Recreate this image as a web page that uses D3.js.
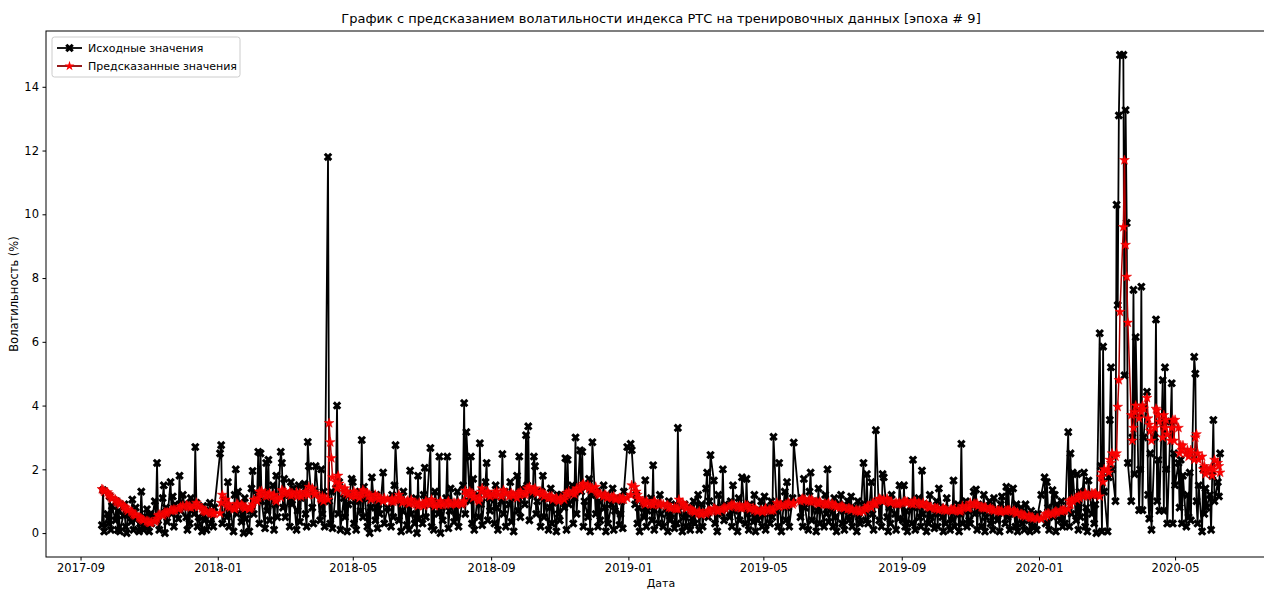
<!DOCTYPE html>
<html>
<head>
<meta charset="utf-8">
<script src="https://cdn.jsdelivr.net/npm/d3@7"></script>
<style>
  body { margin: 0; background: #fff; }
  svg { display: block; font-family: "DejaVu Sans", sans-serif; }
  .axis path, .axis line { stroke: #000; }
  .axis text { fill: #000; font-size: 11.5px; font-family: "DejaVu Sans", sans-serif; }
</style>
</head>
<body>
<svg width="1264" height="591"></svg>
<script>
// daily volatility (%), one row per month of trading days
var actual2017 = [
  [0.25, 1.35, 0.05, 0.6, 0.3, 1.15, 0.1, 0.85],
  [0.4, 1.0, 0.1, 0.7, 0.05, 0.55, 0.9, 0.2, 0.0, 0.6, 0.35, 1.05, 0.1, 0.45, 0.8, 0.05, 0.3, 1.3, 0.5, 0.1, 0.75, 0.2],
  [0.05, 0.6, 0.3, 1.0, 0.5, 2.2, 0.4, 0.1, 1.1, 1.5, 0.0, 0.8, 0.35, 1.6, 0.6, 1.15, 0.2, 0.9, 0.45, 1.8, 0.7],
  [1.2, 0.5, 0.1, 0.9, 0.3, 1.1, 0.6, 2.7, 0.95, 0.2, 0.5, 0.05, 0.85, 0.4, 0.7, 0.1, 0.95, 0.3, 0.6, 0.2, 0.8]
];
var predicted2017 = [
  [1.38, 1.35, 1.3, 1.28, 1.22, 1.18, 1.12, 1.08],
  [1.05, 1.0, 0.98, 0.95, 0.9, 0.86, 0.82, 0.8, 0.75, 0.7, 0.68, 0.65, 0.6, 0.57, 0.55, 0.5, 0.47, 0.45, 0.42, 0.4, 0.38, 0.36],
  [0.33, 0.32, 0.34, 0.36, 0.4, 0.45, 0.55, 0.58, 0.55, 0.6, 0.65, 0.62, 0.65, 0.7, 0.72, 0.7, 0.74, 0.72, 0.75, 0.78, 0.82],
  [0.85, 0.88, 0.85, 0.82, 0.84, 0.8, 0.83, 0.86, 0.95, 0.88, 0.82, 0.78, 0.72, 0.7, 0.68, 0.66, 0.65, 0.62, 0.64, 0.6, 0.62]
];

var actual2018 = [
  [2.5, 2.76, 0.3, 1.0, 0.5, 1.6, 0.2, 0.8, 0.05, 1.2, 2.0, 0.6, 1.3, 0.35, 0.9, 0.0, 1.1, 0.45, 0.05, 0.7, 1.4],
  [1.95, 0.6, 1.2, 2.55, 0.3, 2.5, 1.0, 0.15, 2.2, 0.7, 2.3, 0.4, 1.5, 0.1, 0.9, 1.8, 0.5, 2.55, 2.2, 0.8],
  [1.7, 0.5, 1.2, 0.2, 1.6, 0.9, 1.4, 0.1, 0.7, 1.5, 0.35, 1.1, 1.55, 0.6, 0.2, 2.86, 2.1, 0.8, 0.3, 1.3, 2.1],
  [0.4, 2.0, 0.6, 1.3, 0.2, 11.8, 1.0, 0.3, 1.3, 0.15, 1.4, 4.0, 0.6, 1.6, 0.1, 1.1, 0.5, 1.2, 0.05, 0.9, 1.7],
  [1.6, 0.3, 1.0, 0.1, 1.3, 0.7, 2.92, 0.5, 1.45, 0.2, 1.1, 0.0, 0.8, 1.75, 0.4, 1.2, 0.15, 0.9, 0.6, 1.9, 0.3],
  [0.8, 0.2, 1.2, 0.5, 1.5, 2.76, 0.4, 1.0, 0.05, 0.7, 1.3, 0.25, 0.9, 0.1, 1.96, 0.6, 0.3, 1.1, 0.0, 1.8, 0.45],
  [0.3, 1.2, 2.05, 0.5, 1.0, 2.67, 0.2, 0.9, 0.1, 1.3, 0.6, 2.4, 0.0, 0.8, 0.4, 1.1, 2.4, 0.15, 0.7, 1.4, 0.35, 0.9],
  [0.5, 1.3, 0.2, 0.9, 1.5, 4.08, 0.6, 3.17, 1.0, 2.4, 0.3, 1.7, 0.1, 1.2, 0.5, 2.82, 0.9, 0.25, 1.6, 2.2, 0.4, 1.1, 0.7],
  [1.2, 0.3, 1.5, 0.8, 0.1, 1.0, 2.48, 0.6, 1.3, 0.2, 0.9, 1.6, 0.35, 1.1, 0.05, 1.8, 0.7, 2.4, 0.5, 1.4],
  [0.9, 3.07, 1.5, 3.35, 0.4, 1.2, 2.4, 2.1, 0.6, 1.0, 0.2, 1.3, 1.8, 0.5, 1.1, 0.1, 0.8, 1.4, 0.3, 0.95, 0.05, 1.2, 0.6],
  [0.4, 1.2, 0.8, 2.35, 0.1, 2.3, 0.9, 1.5, 0.3, 1.1, 3.0, 0.6, 2.6, 1.3, 2.55, 0.2, 1.0, 0.5, 1.7, 0.05, 1.2, 2.85],
  [0.6, 1.3, 0.2, 1.0, 0.4, 1.5, 0.8, 0.05, 1.2, 0.3, 0.9, 1.4, 0.1, 0.7, 1.1, 0.25, 0.6, 1.0, 0.15, 1.3, 2.7]
];
var predicted2018 = [
  [0.62, 0.95, 1.2, 1.05, 0.9, 0.82, 0.9, 0.8, 0.78, 0.75, 0.8, 0.92, 0.88, 0.9, 0.85, 0.82, 0.78, 0.8, 0.76, 0.78, 0.82],
  [0.9, 1.05, 1.0, 1.1, 1.3, 1.2, 1.32, 1.25, 1.15, 1.2, 1.18, 1.25, 1.15, 1.2, 1.05, 1.0, 1.1, 1.12, 1.35, 1.3],
  [1.25, 1.3, 1.22, 1.28, 1.18, 1.25, 1.2, 1.28, 1.15, 1.2, 1.25, 1.15, 1.2, 1.3, 1.25, 1.2, 1.45, 1.4, 1.3, 1.2, 1.25],
  [1.1, 1.05, 1.15, 1.0, 1.1, 1.05, 3.45, 2.85, 2.35, 1.75, 1.6, 1.4, 1.8, 1.55, 1.45, 1.3, 1.4, 1.25, 1.3, 1.2, 1.15],
  [1.2, 1.3, 1.15, 1.25, 1.1, 1.2, 1.25, 1.35, 1.3, 1.25, 1.15, 1.2, 1.05, 1.1, 1.2, 1.1, 1.15, 1.05, 1.1, 1.0, 1.1],
  [1.05, 1.0, 1.08, 0.98, 1.02, 1.05, 1.2, 1.1, 1.05, 0.95, 1.0, 0.98, 1.02, 0.92, 0.95, 1.05, 0.95, 0.9, 0.92, 0.85, 0.95],
  [0.9, 0.85, 0.92, 1.0, 0.95, 0.9, 1.05, 0.98, 0.92, 0.85, 0.9, 0.88, 1.0, 0.92, 0.88, 0.9, 0.95, 1.0, 0.92, 0.9, 0.95, 0.92],
  [0.9, 0.92, 0.95, 0.9, 0.95, 1.0, 1.33, 1.2, 1.3, 1.2, 1.25, 1.1, 1.15, 1.05, 1.0, 1.1, 1.3, 1.4, 1.25, 1.2, 1.3, 1.22, 1.15],
  [1.2, 1.25, 1.18, 1.3, 1.22, 1.15, 1.2, 1.35, 1.28, 1.25, 1.15, 1.2, 1.25, 1.18, 1.2, 1.1, 1.25, 1.2, 1.3, 1.25],
  [1.2, 1.25, 1.4, 1.38, 1.45, 1.3, 1.35, 1.4, 1.3, 1.25, 1.3, 1.2, 1.25, 1.15, 1.2, 1.1, 1.15, 1.1, 1.15, 1.05, 1.1, 1.05, 1.0],
  [1.05, 1.1, 1.05, 1.15, 1.25, 1.2, 1.3, 1.25, 1.3, 1.22, 1.3, 1.4, 1.35, 1.45, 1.5, 1.55, 1.45, 1.5, 1.4, 1.45, 1.35, 1.4],
  [1.45, 1.3, 1.25, 1.2, 1.22, 1.15, 1.2, 1.18, 1.1, 1.15, 1.12, 1.1, 1.15, 1.08, 1.05, 1.1, 1.08, 1.05, 1.1, 1.05, 1.1]
];

var actual2019 = [
  [2.8, 2.6, 0.9, 1.2, 0.3, 0.8, 0.05, 1.0, 0.5, 1.66, 0.2, 0.7, 1.1, 0.4, 2.13, 0.1, 0.9, 0.3, 1.2, 0.6],
  [0.2, 0.8, 0.05, 1.0, 0.4, 0.6, 0.15, 0.9, 0.3, 3.3, 0.7, 0.05, 0.5, 0.9, 0.2, 0.6, 0.1, 0.8, 0.35, 1.0],
  [0.3, 1.2, 0.1, 0.6, 0.9, 0.2, 1.4, 1.9, 0.5, 1.0, 2.45, 1.65, 0.3, 0.8, 0.05, 1.2, 0.6, 2.0, 0.4, 0.9],
  [0.5, 1.0, 0.2, 1.5, 0.7, 0.05, 1.1, 0.4, 0.8, 1.75, 0.3, 1.7, 0.6, 0.1, 0.9, 0.35, 1.2, 0.05, 0.7, 0.4, 1.0, 0.2],
  [0.6, 1.15, 0.1, 0.8, 0.3, 1.0, 0.5, 3.02, 0.7, 0.2, 2.2, 0.9, 0.05, 1.3, 0.4, 1.6, 0.8, 0.2, 1.1, 2.84],
  [0.5, 1.1, 0.2, 1.7, 0.8, 0.1, 1.3, 1.9, 0.4, 1.0, 0.05, 0.7, 1.4, 0.3, 0.9, 0.2, 1.2, 0.6, 2.0, 0.35],
  [0.8, 0.2, 1.1, 0.5, 0.05, 0.9, 1.2, 0.3, 0.7, 0.1, 1.0, 0.4, 0.6, 1.15, 0.2, 0.8, 0.05, 1.0, 0.5, 0.3, 2.2, 0.9, 0.4],
  [1.85, 0.3, 1.6, 0.6, 0.1, 0.9, 3.23, 0.4, 1.0, 0.2, 1.85, 1.75, 0.5, 0.05, 0.8, 0.3, 1.2, 0.6, 0.1, 0.9, 0.45, 1.5],
  [0.4, 1.5, 0.2, 0.7, 0.05, 1.0, 0.3, 2.3, 0.8, 0.1, 1.1, 0.5, 0.2, 1.96, 0.6, 0.05, 0.9, 0.3, 1.2, 0.5, 0.15],
  [0.6, 1.0, 0.2, 1.4, 0.5, 0.05, 0.8, 0.3, 1.1, 0.1, 0.7, 0.4, 1.65, 0.2, 0.9, 0.05, 0.6, 2.8, 0.3, 1.0, 0.2, 0.7, 0.4],
  [0.3, 1.3, 0.6, 1.37, 0.1, 0.9, 0.2, 0.7, 1.2, 0.05, 0.5, 1.0, 0.3, 0.8, 0.1, 1.1, 0.4, 0.6, 0.05, 0.9, 1.15],
  [0.3, 1.45, 0.5, 1.3, 0.1, 1.4, 0.6, 0.2, 0.9, 0.05, 0.8, 0.3, 0.6, 0.1, 0.9, 0.4, 0.05, 0.7, 0.2, 0.5, 0.1, 0.6]
];
var predicted2019 = [
  [1.2, 1.5, 1.45, 1.3, 1.2, 1.1, 1.05, 1.0, 0.95, 0.9, 1.0, 0.95, 0.9, 0.92, 0.88, 1.0, 0.95, 0.9, 0.88, 0.92],
  [0.9, 0.85, 0.88, 0.8, 0.82, 0.78, 0.8, 0.75, 0.78, 0.75, 1.05, 0.95, 0.9, 0.85, 0.8, 0.78, 0.75, 0.72, 0.7, 0.68],
  [0.65, 0.62, 0.68, 0.6, 0.58, 0.62, 0.6, 0.65, 0.7, 0.66, 0.7, 0.78, 0.75, 0.72, 0.7, 0.68, 0.72, 0.75, 0.8, 0.78],
  [0.82, 0.85, 0.9, 0.85, 0.88, 0.82, 0.8, 0.85, 0.78, 0.8, 0.88, 0.82, 0.86, 0.8, 0.75, 0.78, 0.72, 0.75, 0.7, 0.68, 0.72, 0.66],
  [0.68, 0.72, 0.78, 0.72, 0.75, 0.7, 0.74, 0.72, 0.95, 0.88, 0.82, 0.9, 0.88, 0.85, 0.9, 0.88, 0.95, 0.92, 0.9, 0.95],
  [1.0, 1.05, 1.08, 1.02, 1.05, 1.0, 1.05, 0.98, 1.05, 1.0, 0.98, 0.95, 0.92, 0.98, 0.95, 0.9, 0.92, 0.88, 0.9, 0.95],
  [0.92, 0.88, 0.85, 0.88, 0.82, 0.8, 0.82, 0.85, 0.8, 0.78, 0.75, 0.78, 0.76, 0.72, 0.75, 0.7, 0.72, 0.68, 0.7, 0.66, 0.68, 0.78, 0.75],
  [0.8, 0.85, 0.8, 0.92, 0.95, 0.9, 0.92, 1.08, 1.05, 1.02, 1.0, 1.05, 1.08, 1.0, 0.98, 0.95, 0.98, 0.92, 0.95, 0.9, 0.92, 0.95],
  [0.95, 0.98, 1.0, 0.95, 0.98, 0.92, 0.95, 0.9, 1.0, 0.98, 0.95, 0.92, 0.9, 0.88, 0.95, 0.9, 0.85, 0.82, 0.8, 0.82, 0.78],
  [0.78, 0.75, 0.78, 0.72, 0.75, 0.78, 0.72, 0.74, 0.7, 0.72, 0.75, 0.7, 0.72, 0.76, 0.72, 0.7, 0.68, 0.72, 0.85, 0.82, 0.8, 0.78, 0.8],
  [0.95, 0.9, 0.92, 0.88, 0.92, 0.85, 0.82, 0.8, 0.78, 0.82, 0.78, 0.75, 0.78, 0.72, 0.74, 0.7, 0.72, 0.68, 0.7, 0.66, 0.7],
  [0.7, 0.68, 0.72, 0.7, 0.72, 0.68, 0.7, 0.65, 0.62, 0.64, 0.6, 0.58, 0.55, 0.56, 0.52, 0.54, 0.5, 0.48, 0.5, 0.46, 0.45, 0.47]
];

var actual2020 = [
  [1.2, 1.75, 0.3, 1.6, 0.8, 0.1, 1.35, 0.5, 1.2, 0.05, 0.9, 0.4, 1.0, 0.2, 0.7, 0.3, 3.17, 0.2, 2.5, 0.6, 1.9],
  [0.4, 1.85, 0.1, 1.3, 0.5, 1.9, 0.2, 0.8, 0.05, 1.65, 0.6, 1.2, 0.3, 0.9, 0.0, 6.27, 2.1, 0.05, 5.85, 1.3],
  [0.05, 1.75, 3.55, 5.2, 2.0, 1.0, 10.3, 7.15, 13.1, 15.0, 15.0, 4.95, 13.27, 9.73, 2.2, 1.0, 3.0, 7.63, 1.85, 6.15, 0.72, 2.0],
  [7.73, 0.72, 3.0, 4.43, 1.2, 0.45, 2.5, 0.1, 3.0, 6.7, 1.0, 2.3, 0.7, 4.8, 0.7, 5.2, 2.0, 0.3, 3.5, 4.7, 0.3, 2.5],
  [1.5, 2.2, 0.8, 2.3, 0.3, 1.8, 0.2, 1.2, 0.5, 1.9, 0.4, 5.53, 5.0, 1.0, 0.3, 1.5, 0.05, 2.0, 0.6, 1.4, 0.8],
  [1.2, 0.1, 1.8, 3.55, 1.0, 1.6, 1.15, 2.5]
];
var predicted2020 = [
  [0.45, 0.5, 0.6, 0.55, 0.62, 0.6, 0.58, 0.62, 0.65, 0.68, 0.65, 0.7, 0.68, 0.72, 0.7, 0.72, 0.75, 1.0, 0.9, 1.05, 1.0],
  [1.1, 1.05, 1.15, 1.1, 1.2, 1.15, 1.25, 1.2, 1.15, 1.2, 1.25, 1.2, 1.22, 1.25, 1.2, 1.15, 1.76, 1.9, 1.6, 2.0],
  [2.0, 1.9, 2.3, 2.2, 2.5, 2.4, 2.5, 3.96, 4.8, 6.94, 9.6, 11.7, 9.04, 8.04, 6.6, 3.7, 2.9, 3.3, 3.8, 4.0, 3.6, 3.9],
  [3.8, 4.0, 3.9, 4.24, 3.6, 3.4, 3.2, 2.9, 3.3, 3.9, 3.85, 3.7, 3.5, 3.0, 3.7, 3.3, 3.55, 3.1, 2.9, 3.3, 3.55, 2.9],
  [3.55, 3.3, 2.5, 2.75, 2.6, 2.75, 2.5, 2.6, 2.4, 2.5, 2.6, 2.3, 3.0, 3.1, 2.5, 2.3, 2.4, 2.0, 2.1, 1.85, 2.0],
  [2.0, 2.05, 1.8, 2.0, 2.3, 2.2, 2.1, 1.9]
];

var years = [
  {year: 2017, firstMonth: 8, actual: actual2017, predicted: predicted2017},
  {year: 2018, firstMonth: 0, actual: actual2018, predicted: predicted2018},
  {year: 2019, firstMonth: 0, actual: actual2019, predicted: predicted2019},
  {year: 2020, firstMonth: 0, actual: actual2020, predicted: predicted2020}
];
var yTicks = [0, 2, 4, 6, 8, 10, 12, 14];
var titleText = "График с предсказанием волатильности индекса РТС на тренировочных данных [эпоха # 9]";
var legendLabels = ["Исходные значения", "Предсказанные значения"];

// trading days of a month, starting from a given day, weekends skipped
function tradingDays(year, month, fromDay, n) {
  var out = [], d = new Date(year, month, fromDay);
  while (out.length < n) {
    if (d.getDay() !== 0 && d.getDay() !== 6) out.push(d);
    d = d3.timeDay.offset(d, 1);
  }
  return out;
}

var actual = [], predicted = [];
years.forEach(function(y) {
  y.actual.forEach(function(row, i) {
    var m = y.firstMonth + i;
    var from = (y.year === 2017 && m === 8) ? 20 : (m === 0 ? 3 : 1);
    var days = tradingDays(y.year, m, from, row.length);
    row.forEach(function(v, j) {
      actual.push({date: days[j], value: v});
      predicted.push({date: days[j], value: y.predicted[i][j]});
    });
  });
});

var svg = d3.select("svg"),
    frame = {left: 46, right: 1276, top: 31, bottom: 557};

// matplotlib style 5% padding around the data
var ext = d3.extent(actual, function(d) { return d.date; }),
    pad = (ext[1] - ext[0]) * 0.05;
var x = d3.scaleTime()
    .domain([new Date(+ext[0] - pad), new Date(+ext[1] + pad)])
    .range([frame.left, frame.right]);
var y = d3.scaleLinear()
    .domain([-0.75, 15.75])
    .range([frame.bottom, frame.top]);

var xAxis = d3.axisBottom(x)
    .ticks(d3.timeMonth.filter(function(d) { return d.getMonth() % 4 === 0; }))
    .tickFormat(d3.timeFormat("%Y-%m"))
    .tickSize(3.5).tickPadding(3.5);
var yAxis = d3.axisLeft(y)
    .tickValues(yTicks)
    .tickSize(3.5).tickPadding(3.5);

svg.append("g")
    .attr("class", "axis")
    .attr("transform", "translate(0," + frame.bottom + ")")
    .call(xAxis)
    .call(function(g) { g.select(".domain").remove(); });

svg.append("g")
    .attr("class", "axis")
    .attr("transform", "translate(" + frame.left + ",0)")
    .call(yAxis)
    .call(function(g) { g.select(".domain").remove(); });

svg.append("defs").append("clipPath")
    .attr("id", "clip")
    .append("rect")
    .attr("x", frame.left).attr("y", frame.top)
    .attr("width", frame.right - frame.left)
    .attr("height", frame.bottom - frame.top);

var plot = svg.append("g").attr("clip-path", "url(#clip)");

var line = d3.line()
    .x(function(d) { return x(d.date); })
    .y(function(d) { return y(d.value); });

var crossPath = d3.symbol().type(d3.symbolCross).size(46)(),
    starPath = d3.symbol().type(d3.symbolStar).size(30)();

plot.append("path")
    .datum(actual)
    .attr("fill", "none")
    .attr("stroke", "#000")
    .attr("stroke-width", 1.8)
    .attr("d", line);

plot.selectAll(".mk-actual")
    .data(actual)
    .enter().append("path")
    .attr("class", "mk-actual")
    .attr("d", crossPath)
    .attr("fill", "#000")
    .attr("transform", function(d) { return "translate(" + x(d.date) + "," + y(d.value) + ")rotate(45)"; });

plot.append("path")
    .datum(predicted)
    .attr("fill", "none")
    .attr("stroke", "#b00000")
    .attr("stroke-width", 1.5)
    .attr("d", line);

plot.selectAll(".mk-pred")
    .data(predicted)
    .enter().append("path")
    .attr("class", "mk-pred")
    .attr("d", starPath)
    .attr("fill", "#ff0000")
    .attr("stroke", "#e00000")
    .attr("stroke-width", 0.5)
    .attr("transform", function(d) { return "translate(" + x(d.date) + "," + y(d.value) + ")"; });

// frame (right spine falls outside the picture)
svg.append("rect")
    .attr("x", frame.left).attr("y", frame.top)
    .attr("width", frame.right - frame.left)
    .attr("height", frame.bottom - frame.top)
    .attr("fill", "none")
    .attr("stroke", "#000")
    .attr("stroke-width", 1);

svg.append("text")
    .attr("x", (frame.left + frame.right) / 2)
    .attr("y", 23)
    .attr("text-anchor", "middle")
    .style("font-size", "13px")
    .text(titleText);

svg.append("text")
    .attr("transform", "translate(18," + ((frame.top + frame.bottom) / 2) + ")rotate(-90)")
    .attr("text-anchor", "middle")
    .style("font-size", "11.5px")
    .text("Волатильность (%)");

svg.append("text")
    .attr("x", (frame.left + frame.right) / 2)
    .attr("y", 587)
    .attr("text-anchor", "middle")
    .style("font-size", "11px")
    .text("Дата");

// legend
var legend = svg.append("g").attr("transform", "translate(52,37)");
legend.append("rect")
    .attr("width", 188).attr("height", 40)
    .attr("rx", 2.5)
    .attr("fill", "#fff").attr("fill-opacity", 0.8)
    .attr("stroke", "#ccc");

var legendColors = [["#000", "#000"], ["#8b0000", "#ff0000"]];
legendLabels.forEach(function(label, i) {
  var row = legend.append("g").attr("transform", "translate(0," + (11 + i * 18) + ")");
  row.append("line")
      .attr("x1", 5).attr("x2", 30)
      .attr("stroke", legendColors[i][0])
      .attr("stroke-width", 1.8);
  row.append("path")
      .attr("d", i === 0 ? crossPath : starPath)
      .attr("fill", legendColors[i][1])
      .attr("transform", "translate(17.5,0)" + (i === 0 ? "rotate(45)" : ""));
  row.append("text")
      .attr("x", 36).attr("dy", "0.35em")
      .style("font-size", "11px")
      .text(label);
});
</script>
</body>
</html>
